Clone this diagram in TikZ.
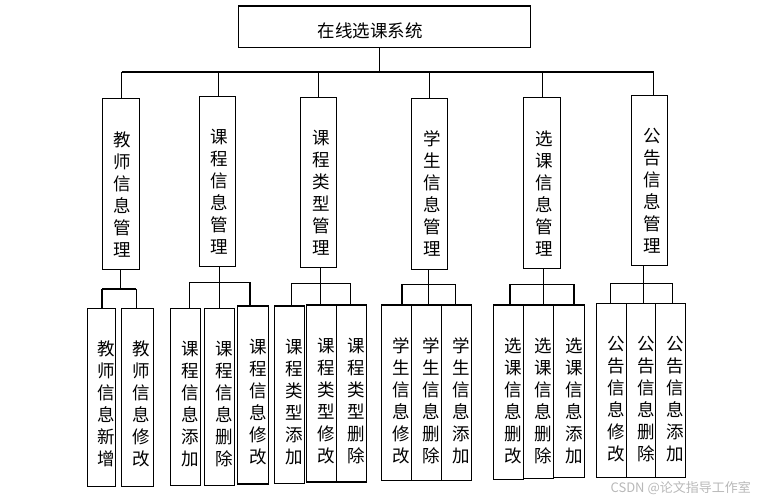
\documentclass[tikz,border=0pt]{standalone}
\usepackage{fontspec}
\newfontfamily\cjk{Noto Sans CJK SC}
\usetikzlibrary{fit,calc}
\newcommand\mkbox[7]{%
  \coordinate (#1-a) at (#2,#3);
  \coordinate (#1-b) at (#4,#5);
  \node[box, fit=(#1-a)(#1-b)] (#1) {};
  \node[vtxt] (#1-t) at ([xshift=#7pt,yshift=-32.5pt]#1.north) {#6};
}
\newcommand\grp[6]{% #1 parent, #2 px, #3 y, #4 lx, #5 rx, #6 tag
  \coordinate (#6p) at (#2,#3);
  \coordinate (#6l) at (#4,#3);
  \coordinate (#6r) at (#5,#3);
  \draw[ln] (#1.south -| #6p) -- (#6p);
  \draw[ln] (#6l) -- (#6r);
}
\begin{document}
\begin{tikzpicture}[x=1pt,y=-1pt,
  box/.style={draw, line width=1.2pt, inner sep=0pt, outer sep=0pt},
  vtxt/.style={font=\cjk\fontsize{17.5}{22}\selectfont, align=center, inner sep=0pt, anchor=north},
  ln/.style={line width=1.2pt}]
\useasboundingbox (0,0) rectangle (757,501);

% root
\coordinate (root-a) at (238.3,6);
\coordinate (root-b) at (530.3,47.3);
\node[box, fit=(root-a)(root-b)] (root) {};
\node[font=\cjk\fontsize{17.5}{20}\selectfont, inner sep=0pt] (root-t) at (370,30.5) {在线选课系统};

% level 1
\mkbox{L1}{102.3}{98.7}{139.3}{269.3}{教\\师\\信\\息\\管\\理}{1.5}
\mkbox{L2}{199.7}{96.7}{235.3}{266.3}{课\\程\\信\\息\\管\\理}{1.5}
\mkbox{L3}{300.3}{97.7}{336.3}{267.3}{课\\程\\类\\型\\管\\理}{2.5}
\mkbox{L4}{411.3}{98.3}{447.3}{269.3}{学\\生\\信\\息\\管\\理}{2.5}
\mkbox{L5}{523.3}{97.7}{560.3}{268.3}{选\\课\\信\\息\\管\\理}{2.5}
\mkbox{L6}{631.3}{95.7}{667.3}{265.7}{公\\告\\信\\息\\管\\理}{2.5}

% level 2
\mkbox{A1}{87.3}{308.3}{115.3}{486.7}{教\\师\\信\\息\\新\\增}{5}
\mkbox{A2}{121.3}{308.3}{153.3}{486.7}{教\\师\\信\\息\\修\\改}{4}
\mkbox{B1}{170.3}{308.3}{200.7}{485.3}{课\\程\\信\\息\\添\\加}{5}
\mkbox{B2}{204.3}{308.3}{234.3}{485.3}{课\\程\\信\\息\\删\\除}{5}
\mkbox{B3}{237.3}{306}{268.7}{484}{课\\程\\信\\息\\修\\改}{5}
\mkbox{C1}{274.3}{306}{304.3}{483.3}{课\\程\\类\\型\\添\\加}{5}
\mkbox{C2}{306.3}{305}{336.3}{482}{课\\程\\类\\型\\修\\改}{5}
\mkbox{C3}{336.3}{305}{366.3}{482}{课\\程\\类\\型\\删\\除}{5}
\mkbox{D1}{381.3}{305}{411.3}{480.7}{学\\生\\信\\息\\修\\改}{5}
\mkbox{D2}{411.3}{305}{441.7}{480.7}{学\\生\\信\\息\\删\\除}{5}
\mkbox{D3}{441.7}{305}{471.3}{480.7}{学\\生\\信\\息\\添\\加}{5}
\mkbox{E1}{493.3}{305}{523.3}{479.3}{选\\课\\信\\息\\删\\改}{5}
\mkbox{E2}{523.3}{305}{553.7}{478.3}{选\\课\\信\\息\\删\\除}{5}
\mkbox{E3}{553.7}{305}{584.3}{477.3}{选\\课\\信\\息\\添\\加}{5}
\mkbox{F1}{596.3}{303.3}{626.3}{477.3}{公\\告\\信\\息\\修\\改}{5}
\mkbox{F2}{626.3}{303.3}{655.7}{477.3}{公\\告\\信\\息\\删\\除}{5}
\mkbox{F3}{655.7}{303.3}{685.3}{477.3}{公\\告\\信\\息\\添\\加}{5}

% top bus
\coordinate (bus) at (379.3,72);
\coordinate (busl) at (121.7,72);
\coordinate (busr) at (654.3,72);
\draw[ln] (root.south -| bus) -- (bus);
\draw[ln] (busl) -- (busr);
\coordinate (t1) at (121.7,72);
\coordinate (t2) at (218.7,72);
\coordinate (t3) at (318.3,72);
\coordinate (t4) at (429.3,72);
\coordinate (t5) at (542.3,72);
\coordinate (t6) at (653.3,72);
\foreach \i in {1,...,6}{\draw[ln] (t\i) -- (t\i |- L\i.north);}

% groups
\grp{L1}{120.7}{289}{102}{136.3}{g1}
\draw[ln] (g1l) -- (g1l |- A1.north);
\draw[ln] (g1r) -- (g1r |- A2.north);

\grp{L2}{219.3}{282.3}{189.3}{250}{g2}
\draw[ln] (g2l) -- (g2l |- B1.north);
\draw[ln] (g2p) -- (g2p |- B2.north);
\draw[ln] (g2r) -- (g2r |- B3.north);

\grp{L3}{320.3}{283.3}{291.3}{350.3}{g3}
\draw[ln] (g3l) -- (g3l |- C1.north);
\draw[ln] (g3p) -- (g3p |- C2.north);
\draw[ln] (g3r) -- (g3r |- C3.north);

\grp{L4}{428.7}{284.3}{402}{455.3}{g4}
\draw[ln] (g4l) -- (g4l |- D1.north);
\draw[ln] (g4p) -- (g4p |- D2.north);
\draw[ln] (g4r) -- (g4r |- D3.north);

\grp{L5}{543.3}{284.3}{510}{574}{g5}
\draw[ln] (g5l) -- (g5l |- E1.north);
\draw[ln] (g5p) -- (g5p |- E2.north);
\draw[ln] (g5r) -- (g5r |- E3.north);

\grp{L6}{643.3}{283.3}{610.3}{672.7}{g6}
\draw[ln] (g6l) -- (g6l |- F1.north);
\draw[ln] (g6p) -- (g6p |- F2.north);
\draw[ln] (g6r) -- (g6r |- F3.north);

% watermark
\node[font=\cjk\fontsize{13}{13}\selectfont, text=black!28, anchor=east, inner sep=0pt] (wm) at (751,488) {CSDN @论文指导工作室};
\end{tikzpicture}
\end{document}
